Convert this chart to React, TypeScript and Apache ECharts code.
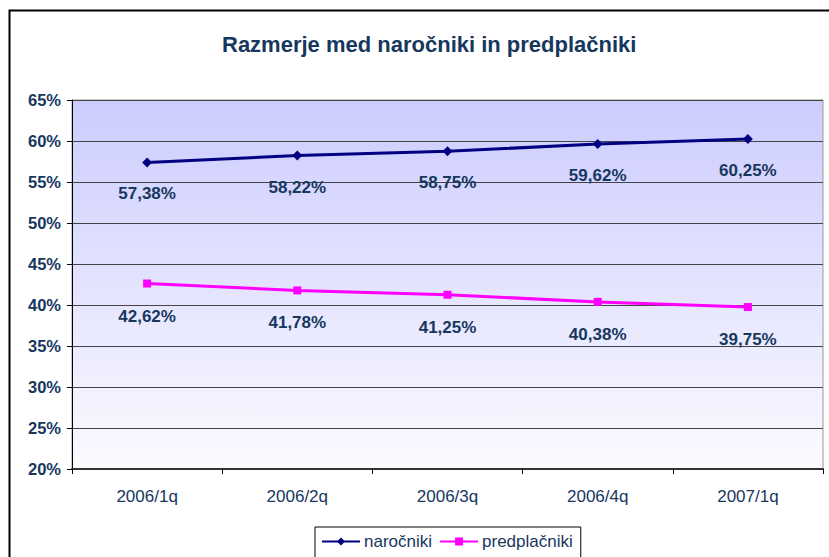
import React, { useEffect, useRef } from "react";
import * as echarts from "echarts";

const categories = ["2006/1q", "2006/2q", "2006/3q", "2006/4q", "2007/1q"];
const narocniki = [57.38, 58.22, 58.75, 59.62, 60.25];
const predplacniki = [42.62, 41.78, 41.25, 40.38, 39.75];
const yMin = 20;
const yMax = 65;
const yStep = 5;

const FONT = "'Liberation Sans', Arial, sans-serif";
const TEXT = "#17375E";

const fmt = (v: number) => v.toFixed(2).replace(".", ",") + "%";

export default function App() {
  const ref = useRef<HTMLDivElement>(null);
  useEffect(() => {
    if (!ref.current) return;
    const chart = echarts.init(ref.current, undefined, { renderer: "svg" });
    chart.setOption({
      animation: false,
      backgroundColor: "#fff",
      title: {
        text: "Razmerje med naročniki in predplačniki",
        left: 217,
        top: 28,
        textStyle: { fontFamily: FONT, fontSize: 22, fontWeight: "bold", color: TEXT },
      },
      graphic: [
        {
          type: "rect",
          shape: { x: 9.5, y: 10.5, width: 900, height: 700 },
          style: { fill: "none", stroke: "#000", lineWidth: 2 },
          z: 100,
        },
      ],
      legend: {
        left: 315,
        top: 527,
        borderColor: "#000",
        borderWidth: 1,
        padding: [6, 8, 8, 6],
        itemGap: 7,
        itemWidth: 38,
        itemHeight: 10,
        textStyle: { fontFamily: FONT, fontSize: 17, color: TEXT, padding: [0, 0, 0, -1] },
        data: ["naročniki", "predplačniki"],
      },
      grid: {
        left: 72,
        top: 100,
        right: 6,
        bottom: 88,
        show: true,
        borderColor: "#999",
        borderWidth: 1,
        backgroundColor: new echarts.graphic.LinearGradient(0, 0, 0, 1, [
          { offset: 0, color: "#CCCCFF" },
          { offset: 1, color: "#FBFBFF" },
        ]),
      },
      xAxis: {
        type: "category",
        data: categories,
        boundaryGap: true,
        axisLine: { lineStyle: { color: "#333", width: 2 } },
        axisTick: { show: true, length: 5, lineStyle: { color: "#000", width: 1 } },
        axisLabel: { fontFamily: FONT, fontSize: 17, color: TEXT, margin: 19 },
      },
      yAxis: {
        type: "value",
        min: yMin,
        max: yMax,
        interval: yStep,
        axisLine: { show: true, lineStyle: { color: "#000", width: 1 } },
        axisTick: { show: true, length: 5, lineStyle: { color: "#000" } },
        axisLabel: {
          fontFamily: FONT,
          fontSize: 16.5,
          fontWeight: "bold",
          color: TEXT,
          margin: 11,
          formatter: (v: number) => v + "%",
        },
        splitLine: { lineStyle: { color: "#444", width: 1 } },
      },
      series: [
        {
          name: "naročniki",
          type: "line",
          data: narocniki,
          symbol: "diamond",
          symbolSize: 10,
          itemStyle: { color: "#000080" },
          lineStyle: { color: "#000080", width: 3 },
          label: {
            show: true,
            position: "bottom",
            distance: 18,
            fontFamily: FONT,
            fontSize: 17,
            fontWeight: "bold",
            color: TEXT,
            formatter: (p: any) => fmt(p.value),
          },
        },
        {
          name: "predplačniki",
          type: "line",
          data: predplacniki,
          symbol: "rect",
          symbolSize: 8,
          itemStyle: { color: "#FF00FF" },
          lineStyle: { color: "#FF00FF", width: 3 },
          label: {
            show: true,
            position: "bottom",
            distance: 20,
            fontFamily: FONT,
            fontSize: 17,
            fontWeight: "bold",
            color: TEXT,
            formatter: (p: any) => fmt(p.value),
          },
        },
      ],
    });
    return () => chart.dispose();
  }, []);
  return (
    <div
      ref={ref}
      style={{ position: "fixed", left: 0, top: 0, width: 829, height: 557 }}
    />
  );
}
